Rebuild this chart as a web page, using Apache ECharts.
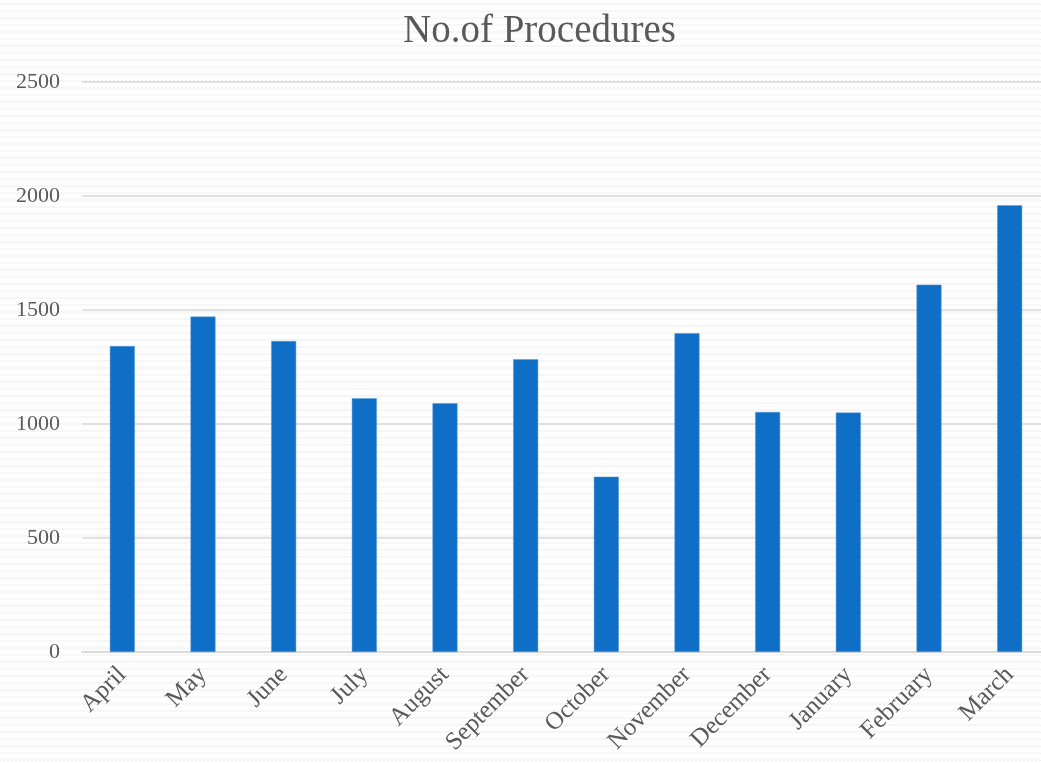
<!DOCTYPE html>
<html>
<head>
<meta charset="utf-8">
<script src="https://cdn.jsdelivr.net/npm/echarts@6/dist/echarts.min.js"></script>
<style>
html,body{margin:0;padding:0;}
body{
  width:1041px;height:763px;overflow:hidden;background-color:#ffffff;
  background-image:url("data:image/svg+xml;utf8,<svg xmlns='http://www.w3.org/2000/svg' width='8' height='7'><polyline points='0,5 2,3 4,5 6,3 8,5' fill='none' stroke='%23efefef' stroke-width='1'/></svg>");
}
#c{width:1052px;height:763px;}
</style>
</head>
<body>
<div id="c"></div>
<script>
const categories = ["April","May","June","July","August","September","October","November","December","January","February","March"];
const procedures = [1342,1471,1364,1113,1091,1284,769,1398,1053,1050,1611,1959];
const yTicks = {min:0, max:2500, interval:500};

const chart = echarts.init(document.getElementById('c'), null, {renderer:'canvas'});
const fontFam = '"Liberation Serif","DejaVu Serif",serif';
chart.setOption({
  backgroundColor:'transparent',
  animation:false,
  title:{
    text:'No.of Procedures',
    left:398, top:7,
    textStyle:{fontFamily:fontFam, fontSize:39, fontWeight:'normal', color:'#595959'}
  },
  grid:{left:82, top:82, width:968, height:570, containLabel:false},
  xAxis:{
    type:'category', data:categories,
    axisLine:{lineStyle:{color:'#d9d9d9', width:1.5}},
    axisTick:{show:false},
    axisLabel:{rotate:45, margin:19, interval:0, fontFamily:fontFam, fontSize:25, color:'#595959'}
  },
  yAxis:{
    type:'value', min:yTicks.min, max:yTicks.max, interval:yTicks.interval,
    axisLine:{show:false}, axisTick:{show:false},
    splitLine:{lineStyle:{color:'#d9d9d9', width:1.5}},
    axisLabel:{margin:22, fontFamily:fontFam, fontSize:22, color:'#595959', formatter:function(v){return String(v);}}
  },
  series:[{
    type:'bar', data:procedures, barWidth:25,
    itemStyle:{color:'#0f6fc6', borderColor:'#5b9bd5', borderWidth:0.5}
  }]
});
</script>
</body>
</html>
